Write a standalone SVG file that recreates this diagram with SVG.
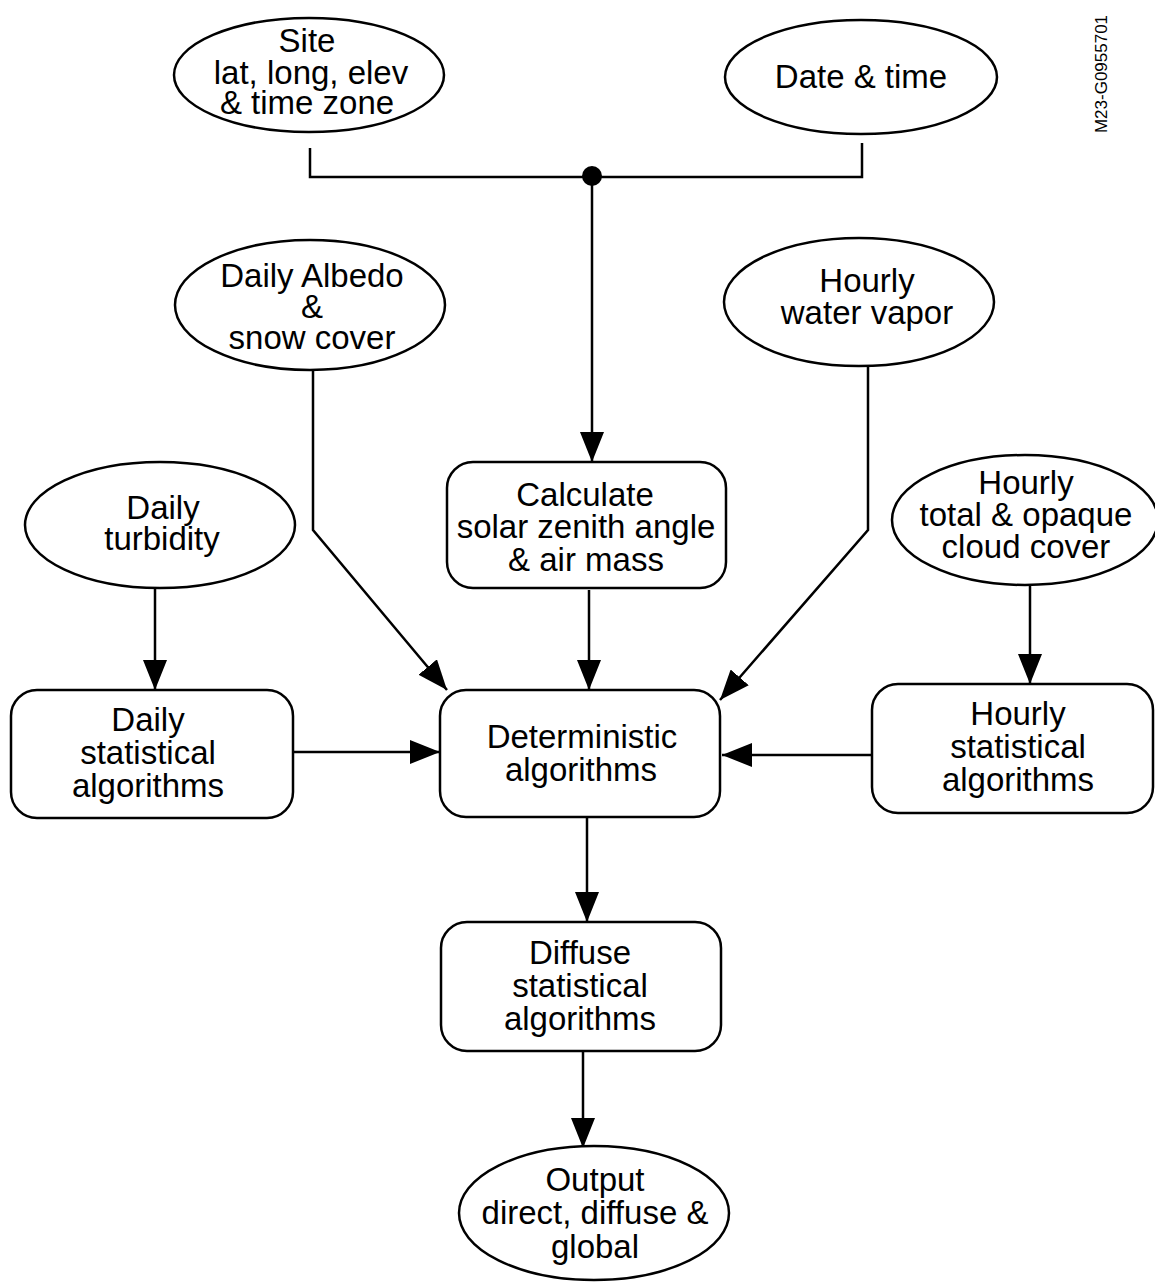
<svg xmlns="http://www.w3.org/2000/svg" width="1155" height="1283" viewBox="0 0 1155 1283">
<style>
.n{fill:#fff;stroke:#000;stroke-width:2.5}
.t{font-family:"Liberation Sans",Arial,sans-serif;font-size:33px;fill:#000;text-anchor:middle}
.c{fill:none;stroke:#000;stroke-width:2.5}
</style>
<defs>
<marker id="ah" markerWidth="30" markerHeight="24" refX="30" refY="12" orient="auto" markerUnits="userSpaceOnUse">
<path d="M0,0 L30,12 L0,24 Z" fill="#000"/>
</marker>
</defs>
<rect width="1155" height="1283" fill="#fff"/>
<g id="connectors">
<path class="c" d="M310,148 V177 H862 V143"/>
<circle cx="592" cy="176" r="10" fill="#000"/>
<path class="c" d="M592,176 V462" marker-end="url(#ah)"/>
<path class="c" d="M313,370 V530 L447,690" marker-end="url(#ah)"/>
<path class="c" d="M868,366 V530 L720,700" marker-end="url(#ah)"/>
<path class="c" d="M589,590 V690" marker-end="url(#ah)"/>
<path class="c" d="M155,588 V690" marker-end="url(#ah)"/>
<path class="c" d="M1030,583 V684" marker-end="url(#ah)"/>
<path class="c" d="M293,752 H440" marker-end="url(#ah)"/>
<path class="c" d="M872,755 H722" marker-end="url(#ah)"/>
<path class="c" d="M587,817 V922" marker-end="url(#ah)"/>
<path class="c" d="M583,1051 V1148" marker-end="url(#ah)"/>
</g>
<g id="site"><ellipse class="n" cx="309" cy="75" rx="135" ry="57"/>
<text class="t" x="307" y="52">Site</text><text class="t" x="311" y="84">lat, long, elev</text><text class="t" x="307" y="114">&amp; time zone</text></g>
<g id="datetime"><ellipse class="n" cx="861" cy="77" rx="136" ry="57"/>
<text class="t" x="861" y="88">Date &amp; time</text></g>
<g id="albedo"><ellipse class="n" cx="310" cy="305" rx="135" ry="65"/>
<text class="t" x="312" y="287">Daily Albedo</text><text class="t" x="312" y="318">&amp;</text><text class="t" x="312" y="349">snow cover</text></g>
<g id="vapor"><ellipse class="n" cx="859" cy="302" rx="135" ry="64"/>
<text class="t" x="867" y="292">Hourly</text><text class="t" x="867" y="324">water vapor</text></g>
<g id="turbidity"><ellipse class="n" cx="160" cy="525" rx="135" ry="63"/>
<text class="t" x="163" y="519">Daily</text><text class="t" x="162" y="550">turbidity</text></g>
<g id="cloud"><ellipse class="n" cx="1025" cy="520" rx="133" ry="65"/>
<text class="t" x="1026" y="494">Hourly</text><text class="t" x="1026" y="526">total &amp; opaque</text><text class="t" x="1026" y="558">cloud cover</text></g>
<g id="calc"><rect class="n" x="447" y="462" width="279" height="126" rx="26"/>
<text class="t" x="585" y="506">Calculate</text><text class="t" x="586" y="538">solar zenith angle</text><text class="t" x="586" y="571">&amp; air mass</text></g>
<g id="daily"><rect class="n" x="11" y="690" width="282" height="128" rx="26"/>
<text class="t" x="148" y="731">Daily</text><text class="t" x="148" y="764">statistical</text><text class="t" x="148" y="797">algorithms</text></g>
<g id="det"><rect class="n" x="440" y="690" width="280" height="127" rx="26"/>
<text class="t" x="582" y="748">Deterministic</text><text class="t" x="581" y="781">algorithms</text></g>
<g id="hourly"><rect class="n" x="872" y="684" width="281" height="129" rx="26"/>
<text class="t" x="1018" y="725">Hourly</text><text class="t" x="1018" y="758">statistical</text><text class="t" x="1018" y="791">algorithms</text></g>
<g id="diffuse"><rect class="n" x="441" y="922" width="280" height="129" rx="26"/>
<text class="t" x="580" y="964">Diffuse</text><text class="t" x="580" y="997">statistical</text><text class="t" x="580" y="1030">algorithms</text></g>
<g id="output"><ellipse class="n" cx="594" cy="1213" rx="135" ry="67"/>
<text class="t" x="595" y="1191">Output</text><text class="t" x="595" y="1224">direct, diffuse &amp;</text><text class="t" x="595" y="1258">global</text></g>
<text x="1107" y="74" transform="rotate(-90 1107 74)" font-family="Liberation Sans,Arial,sans-serif" font-size="17" text-anchor="middle">M23-G0955701</text>
</svg>
